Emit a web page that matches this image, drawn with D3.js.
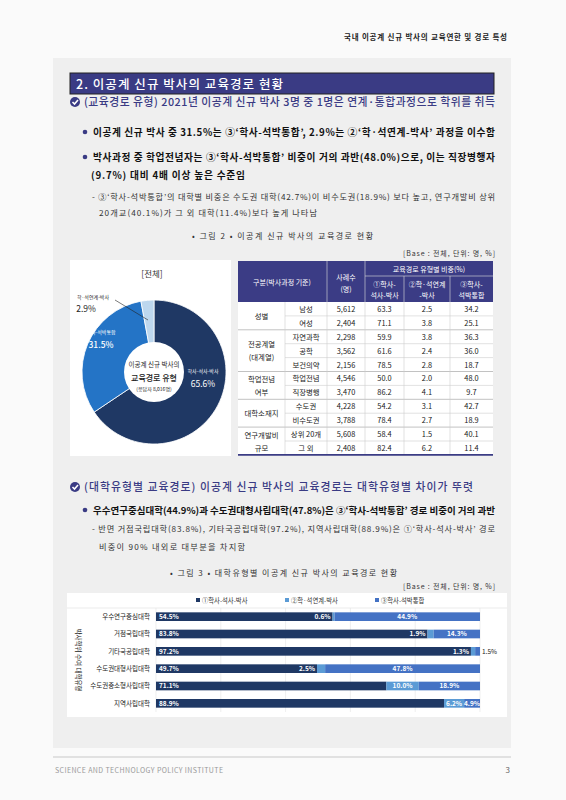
<!DOCTYPE html>
<html><head><meta charset="utf-8">
<script src="https://cdn.jsdelivr.net/npm/d3@7"></script>
<style>body{margin:0;background:#fafafa}svg{display:block;font-family:"Noto Sans CJK KR",sans-serif}</style>
</head><body><svg id="c" width="566" height="800"></svg>
<script>
// ---- data ----
const donutLabels = ["학사-석사-박사","학사-석박통합","학·석연계-박사"];
const donutValues = [65.6, 31.5, 2.9];
const tableGroups = ["성별","전공계열\n(대계열)","학업전념\n여부","대학소재지","연구개발비\n규모"];
const tableGroupSizes = [2,3,2,2,2];
const tableSub = ["남성","여성","자연과학","공학","보건의약","학업전념","직장병행","수도권","비수도권","상위 20개","그 외"];
const tableN = ["5,612","2,404","2,298","3,562","2,156","4,546","3,470","4,228","3,788","5,608","2,408"];
const tableP1 = [63.3,71.1,59.9,61.6,78.5,50.0,86.2,54.2,78.4,58.4,82.4];
const tableP2 = [2.5,3.8,3.8,2.4,2.8,2.0,4.1,3.1,2.7,1.5,6.2];
const tableP3 = [34.2,25.1,36.3,36.0,18.7,48.0,9.7,42.7,18.9,40.1,11.4];
const barCats = ["우수연구중심대학","거점국립대학","기타국공립대학","수도권대형사립대학","수도권중소형사립대학","지역사립대학"];
const barSeries = ["①학사-석사-박사","②학·석연계-박사","③학사-석박통합"];
const s1 = [54.5,83.8,97.2,49.7,71.1,88.9];
const s2 = [0.6,1.9,1.3,2.5,10.0,6.2];
const s3 = [44.9,14.3,1.5,47.8,18.9,4.9];
const xTicks = [0,20,40,60,80,100];

const svg = d3.select("#c");
const NAVY="#3a3b84";
function txt(x,y,s,o={}){const t=svg.append("text").attr("x",x).attr("y",y).text(s)
 .attr("font-size",o.fs||10).attr("fill",o.fill||"#111").attr("text-anchor",o.a||"start")
 .attr("font-weight",o.w||400);
 if(o.len) t.attr("textLength",o.len).attr("lengthAdjust","spacing");
 return t;}

txt(507,40,"국내 이공계 신규 박사의 교육연한 및 경로 특성",{fs:7.5,a:"end",w:700,fill:"#222",len:163});
svg.append("rect").attr("x",53).attr("y",58).attr("width",458).attr("height",690).attr("fill","#efefef");
svg.append("line").attr("x1",53).attr("x2",511).attr("y1",757).attr("y2",757).attr("stroke","#c8c8c8");
txt(55,773,"SCIENCE AND TECHNOLOGY POLICY INSTITUTE",{fs:7,fill:"#999",len:168});
txt(510,773,"3",{fs:8,a:"end",fill:"#666"});

svg.append("rect").attr("x",70).attr("y",73).attr("width",424).attr("height",21).attr("fill",NAVY).attr("stroke","#222");
txt(76,89,"2. 이공계 신규 박사의 교육경로 현황",{fs:12.5,fill:"#fff",w:500,len:207});

function check(x,y){svg.append("circle").attr("cx",x).attr("cy",y).attr("r",5).attr("fill",NAVY);
 svg.append("path").attr("d",`M${x-2.5},${y}l2,2l3.5,-4`).attr("stroke","#fff").attr("stroke-width",1.6).attr("fill","none");}
function dot(x,y){svg.append("circle").attr("cx",x).attr("cy",y).attr("r",2.3).attr("fill",NAVY);}
check(75,102); txt(84,106,"(교육경로 유형) 2021년 이공계 신규 박사 3명 중 1명은 연계·통합과정으로 학위를 취득",{fs:10.8,fill:NAVY,w:500,len:411});
dot(85,132); txt(93,136,"이공계 신규 박사 중 31.5%는 ③‘학사-석박통합’, 2.9%는 ②‘학·석연계-박사’ 과정을 이수함",{fs:9.7,w:700,len:402});
dot(85,157); txt(93,161,"박사과정 중 학업전념자는 ③‘학사-석박통합’ 비중이 거의 과반(48.0%)으로, 이는 직장병행자",{fs:9.7,w:700,len:402});
txt(91,179,"(9.7%) 대비 4배 이상 높은 수준임",{fs:9.7,w:700,len:154});
txt(92,200,"- ③‘학사-석박통합’의 대학별 비중은 수도권 대학(42.7%)이 비수도권(18.9%) 보다 높고, 연구개발비 상위",{fs:8.2,fill:"#333",len:403});
txt(99,216,"20개교(40.1%)가 그 외 대학(11.4%)보다 높게 나타남",{fs:8.2,fill:"#333",len:218});
txt(192,239,"• 그림 2 •  이공계 신규 박사의 교육경로 현황",{fs:8,fill:"#333",len:181});
txt(495,256,"[Base : 전체, 단위: 명, %]",{fs:7,fill:"#333",a:"end",len:92});

// donut
svg.append("rect").attr("x",70).attr("y",260).attr("width",161).attr("height",196).attr("fill","#fff");
txt(152,277,"[전체]",{fs:8.5,a:"middle",fill:"#333"});
const cx=154,cy=372;
const pie=d3.pie().sort(null)(donutValues);
const arc=d3.arc().innerRadius(0).outerRadius(72);
const dcol=["#1f3864","#2474c6","#bdd7ee"];
svg.selectAll(".sl").data(pie).join("path").attr("transform",`translate(${cx},${cy})`).attr("d",arc)
 .attr("fill",(d,i)=>dcol[i]).attr("stroke","#fff").attr("stroke-width",0.8);
svg.append("circle").attr("cx",cx).attr("cy",cy).attr("r",30).attr("fill","#fff");
txt(cx,367,"이공계 신규 박사의",{fs:6.5,a:"middle",fill:"#222"});
txt(cx,381,"교육경로 유형",{fs:8,a:"middle",fill:"#222",w:500});
txt(cx,391,"(응답자 8,016명)",{fs:5,a:"middle",fill:"#222"});
txt(203,373,donutLabels[0],{fs:5,a:"middle",fill:"#fff"});
txt(203,387,donutValues[0]+"%",{fs:8.5,a:"middle",fill:"#fff"});
txt(101,334,donutLabels[1],{fs:5,a:"middle",fill:"#fff"});
txt(101,348,donutValues[1]+"%",{fs:8.5,a:"middle",fill:"#fff",w:500});
txt(93,299,donutLabels[2],{fs:5,a:"middle",fill:"#222"});
txt(86,312,donutValues[2]+"%",{fs:8.5,a:"middle",fill:"#222"});
svg.append("line").attr("x1",115).attr("y1",300).attr("x2",148).attr("y2",320).attr("stroke","#222").attr("stroke-width",0.6);

// table
const cols=[238,285,327,365,404,450,493];
const ty0=261, ty1=276, ty2=302, rh=13.9;
svg.append("rect").attr("x",238).attr("y",ty0).attr("width",255).attr("height",ty2-ty0).attr("fill","#3b3c85");
svg.append("rect").attr("x",238).attr("y",ty2).attr("width",255).attr("height",rh*11).attr("fill","#fff");
const hl=(x1,x2,y,c,w)=>svg.append("line").attr("x1",x1).attr("x2",x2).attr("y1",y).attr("y2",y).attr("stroke",c).attr("stroke-width",w||0.6);
const vl=(x,y1,y2,c)=>svg.append("line").attr("x1",x).attr("x2",x).attr("y1",y1).attr("y2",y2).attr("stroke",c).attr("stroke-width",0.6);
hl(365,493,ty1,"#ddd"); [327,365].forEach(x=>vl(x,ty0,ty2,"#ddd")); [404,450].forEach(x=>vl(x,ty1,ty2,"#ddd"));
const hw={fs:7,a:"middle",fill:"#fff"};
txt(282,285,"구분(박사과정 기준)",hw); txt(346,280,"사례수",hw); txt(346,292,"(명)",hw);
txt(429,272,"교육경로 유형별 비중(%)",hw);
[["①학사-","석사-박사"],["②학·석연계","-박사"],["③학사-","석박통합"]].forEach((p,i)=>{
 const x=(cols[i+3]+cols[i+4])/2; txt(x,287,p[0],hw); txt(x,298,p[1],hw);});
tableSub.forEach((s,i)=>{
 const y=ty2+rh*i+rh/2+3;
 const o={fs:7.4,a:"middle",fill:"#222"};
 txt(306,y,s,o); txt(346,y,tableN[i],o); txt(384.5,y,tableP1[i].toFixed(1),o);
 txt(427,y,tableP2[i].toFixed(1),o); txt(471.5,y,tableP3[i].toFixed(1),o);
});
let acc=0;
tableGroups.forEach((g,gi)=>{
 const n=tableGroupSizes[gi], y0=ty2+acc*rh, h=n*rh;
 const lines=g.split("\n");
 lines.forEach((l,li)=>txt(261.5,y0+h/2+3+(li-(lines.length-1)/2)*13,l,{fs:7.4,a:"middle",fill:"#222"}));
 for(let k=1;k<n;k++) hl(285,493,y0+k*rh,"#ccc");
 acc+=n; if(gi<tableGroups.length-1) hl(238,493,ty2+acc*rh,"#999");
});
cols.slice(1,6).forEach(x=>vl(x,ty2,ty2+rh*11,"#ccc"));
hl(238,493,ty2+rh*11,"#3b3c85",1.6);

// second section
check(75,487); txt(84,491,"(대학유형별 교육경로) 이공계 신규 박사의 교육경로는 대학유형별 차이가 뚜렷",{fs:10.8,fill:NAVY,w:500,len:389});
dot(85,510); txt(93,514,"우수연구중심대학(44.9%)과 수도권대형사립대학(47.8%)은 ③‘학사-석박통합’ 경로 비중이 거의 과반",{fs:9.5,w:700,len:402});
txt(92,532,"- 반면 거점국립대학(83.8%), 기타국공립대학(97.2%), 지역사립대학(88.9%)은 ①‘학사-석사-박사’ 경로",{fs:8.2,fill:"#333",len:403});
txt(99,550,"비중이 90% 내외로 대부분을 차지함",{fs:8.2,fill:"#333",len:146});
txt(170,576,"• 그림 3 •  대학유형별 이공계 신규 박사의 교육경로 현황",{fs:8,fill:"#333",len:227});
txt(495,589,"[Base : 전체, 단위: 명, %]",{fs:7,a:"end",fill:"#333",len:92});

svg.append("rect").attr("x",67).attr("y",593).attr("width",440).attr("height",124).attr("fill","#fff");
const bcol=["#1f3864","#5b9bd5","#4472c4"];
const lx=[196,285,375];
barSeries.forEach((s,i)=>{svg.append("rect").attr("x",lx[i]).attr("y",598).attr("width",4).attr("height",4).attr("fill",bcol[i]);
 txt(lx[i]+6,602.5,s,{fs:6.3,fill:"#333"});});
hl(67,507,608,"#ddd");
const x=d3.scaleLinear().domain([0,100]).range([156,480]);
const y=d3.scaleBand().domain(barCats).range([608,712]).paddingInner(0.5).paddingOuter(0.25);
xTicks.forEach(t=>vl(x(t),608,712,"#e3e3e3"));
const stack=d3.stack().keys([0,1,2])(barCats.map((c,i)=>[s1[i],s2[i],s3[i]]));
stack.forEach((ser,si)=>{
 svg.selectAll(".b"+si).data(ser).join("rect").attr("x",d=>x(d[0])).attr("width",d=>x(d[1])-x(d[0]))
  .attr("y",(d,i)=>y(barCats[i])).attr("height",y.bandwidth()).attr("fill",bcol[si]);
});
barCats.forEach((c,i)=>{
 const yy=y(c)+y.bandwidth()/2+2.3, o={fs:6.5,fill:"#fff",w:700};
 txt(x(0)+3,yy,s1[i].toFixed(1)+"%",o);
 const e1=x(s1[i]), e2=x(s1[i]+s2[i]);
 if(s2[i]>=5) txt((e1+e2)/2,yy,s2[i].toFixed(1)+"%",{...o,a:"middle"});
 else txt(e1-2,yy,s2[i].toFixed(1)+"%",{...o,a:"end"});
 if(s3[i]>=10) txt((e2+x(100))/2,yy,s3[i].toFixed(1)+"%",{...o,a:"middle"});
 else if(s3[i]>=4) txt(x(100),yy,s3[i].toFixed(1)+"%",{...o,a:"end"});
 else txt(x(100)+2,yy,s3[i].toFixed(1)+"%",{...o,fill:"#222",w:400});
 txt(150,yy,c,{fs:6.5,a:"end",fill:"#222"});
});
svg.append("text").attr("transform","translate(76,660) rotate(90)").attr("text-anchor","middle")
 .attr("font-size",6.5).attr("fill","#222").text("박사학위 수여 대학유형");
</script></body></html>
